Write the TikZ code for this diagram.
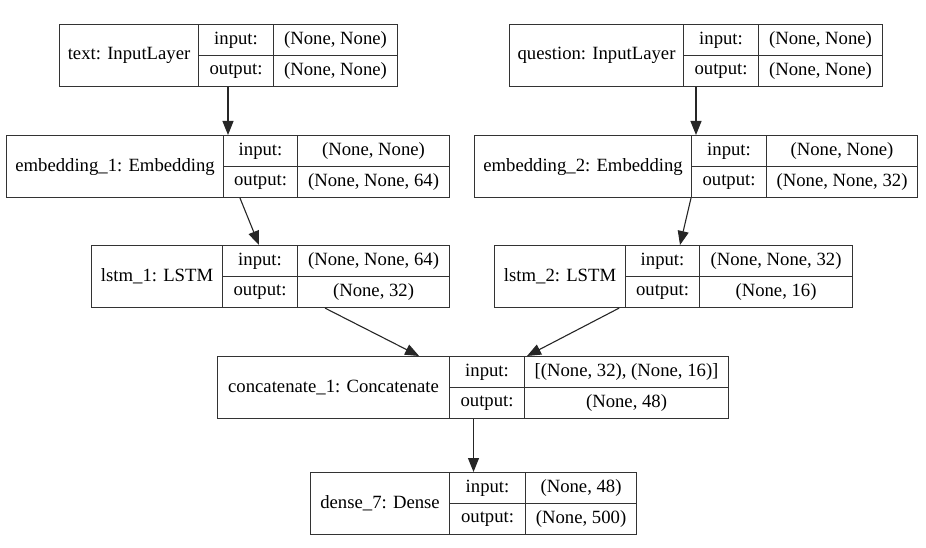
\documentclass[tikz,border=0pt]{standalone}
\usepackage{fontspec}
\setmainfont{Liberation Serif}
\newfontfamily\boxfont{Liberation Serif}
\usetikzlibrary{arrows.meta}

\tikzset{
  namecell/.style={draw=black!80, line width=1.1pt, rectangle, inner sep=0pt,
    anchor=north west, minimum height=62pt},
  subcell/.style={draw=black!80, line width=1.1pt, rectangle, inner sep=0pt,
    anchor=north west, minimum height=31pt},
  edge/.style={draw=black!85, line width=1.1pt, -{Triangle[length=14pt,width=11pt]}}
}

% una capa: #1 nombre, #2 y superior, #3-#6 bordes en x, #7 titulo, #8 entrada, #9 salida
\newcommand{\layerbox}[9]{%
  \node[namecell, minimum width={(#4-#3)*1pt}] (#1) at (#3,#2) {#7};
  \node[subcell, minimum width={(#5-#4)*1pt}] (#1-il) at (#4,#2) {input:};
  \node[subcell, minimum width={(#6-#5)*1pt}] (#1-iv) at (#5,#2) {#8};
  \node[subcell, minimum width={(#5-#4)*1pt}] (#1-ol) at (#4,#2+31) {output:};
  \node[subcell, minimum width={(#6-#5)*1pt}] (#1-ov) at (#5,#2+31) {#9};
}

\begin{document}
\begin{tikzpicture}[x=1pt, y=-1pt, font=\boxfont\fontsize{18.7}{22}\selectfont]
    \useasboundingbox (0,0) rectangle (926,548);

    % Entradas
    \layerbox{text}{24}{59}{198}{273}{397}{text: InputLayer}{(None, None)}{(None, None)}
    \layerbox{question}{24}{509}{683}{758}{882}{question: InputLayer}{(None, None)}{(None, None)}

    % Embeddings
    \layerbox{emb1}{135}{6}{223}{297}{449}{embedding\_1: Embedding}{(None, None)}{(None, None, 64)}
    \layerbox{emb2}{135}{474}{691}{766}{917}{embedding\_2: Embedding}{(None, None)}{(None, None, 32)}

    % LSTM
    \layerbox{lstm1}{245}{91}{222}{297}{449}{lstm\_1: LSTM}{(None, None, 64)}{(None, 32)}
    \layerbox{lstm2}{245}{494}{625}{699}{852}{lstm\_2: LSTM}{(None, None, 32)}{(None, 16)}

    % Concatenacion y densa
    \layerbox{concat}{356}{217}{449}{524}{728}{concatenate\_1: Concatenate}{[(None, 32), (None, 16)]}{(None, 48)}
    \layerbox{dense}{472}{310}{449}{525}{636}{dense\_7: Dense}{(None, 48)}{(None, 500)}

    % Conexiones
    \draw[edge] ([xshift=30pt]text-ol.south west) -- ([xshift=5pt]emb1-il.north west);
    \draw[edge] ([xshift=13pt]question-ol.south west) -- ([xshift=5pt]emb2-il.north west);
    \draw[edge] ([xshift=17pt]emb1-ol.south west) -- ([xshift=37pt]lstm1-il.north west);
    \draw[edge] (emb2-ol.south west) -- ([xshift=55pt]lstm2-il.north west);
    \draw[edge] ([xshift=28pt]lstm1-ov.south west) -- ([xshift=-31pt]concat.north east);
    \draw[edge] ([xshift=-7pt]lstm2.south east) -- ([xshift=3pt]concat-iv.north west);
    \draw[edge] ([xshift=24.5pt]concat-ol.south west) -- ([xshift=24.5pt]dense-il.north west);
\end{tikzpicture}
\end{document}
